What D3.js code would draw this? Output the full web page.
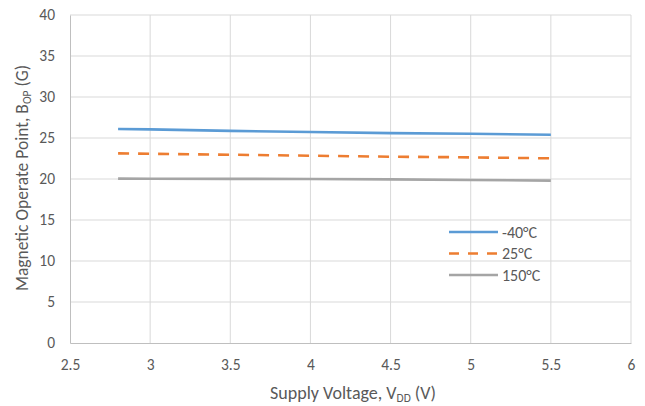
<!DOCTYPE html>
<html><head><meta charset="utf-8">
<script src="https://cdn.jsdelivr.net/npm/d3@7"></script>
<style>body{margin:0;background:#fff}text{font-family:Carlito,Lato,"Open Sans",sans-serif;fill:#595959}</style>
</head><body><svg id="c" width="645" height="406"></svg>
<script>
const voltages = [2.8, 3, 3.5, 4, 4.5, 5, 5.5];
const seriesNames = ["-40°C", "25°C", "150°C"];
const vMinus40 = [26.1, 26.05, 25.87, 25.73, 25.6, 25.52, 25.4];
const v25 = [23.13, 23.08, 22.96, 22.84, 22.72, 22.64, 22.52];
const v150 = [20.04, 20.03, 20.02, 20.0, 19.96, 19.88, 19.8];
const xTicks = [2.5, 3, 3.5, 4, 4.5, 5, 5.5, 6];
const yTicks = [0, 5, 10, 15, 20, 25, 30, 35, 40];
const colors = ["#5b9bd5", "#ed7d31", "#a5a5a5"];
const dashes = [null, "11,9", null];

const svg = d3.select("#c");
const x = d3.scaleLinear().domain([2.5, 6]).range([70, 631]);
const y = d3.scaleLinear().domain([0, 40]).range([343, 15]);

// gridlines
svg.append("g").selectAll("line").data(yTicks.filter(d=>d>0)).join("line")
  .attr("x1", x(2.5)).attr("x2", x(6)).attr("y1", d=>y(d)).attr("y2", d=>y(d))
  .attr("stroke", "#d9d9d9").attr("stroke-width", 1);
svg.append("g").selectAll("line").data(xTicks.filter(d=>d>2.5)).join("line")
  .attr("x1", d=>x(d)).attr("x2", d=>x(d)).attr("y1", y(0)).attr("y2", y(40))
  .attr("stroke", "#d9d9d9").attr("stroke-width", 1);

// axes
const xAxis = svg.append("g").attr("transform", `translate(0,${y(0)})`)
  .call(d3.axisBottom(x).tickValues(xTicks).tickSize(0).tickPadding(16).tickFormat(d3.format("")));
xAxis.select(".domain").attr("stroke", "#bfbfbf");
const yAxis = svg.append("g").attr("transform", `translate(${x(2.5)},0)`)
  .call(d3.axisLeft(y).tickValues(yTicks).tickSize(0).tickPadding(15));
yAxis.select(".domain").attr("stroke", "#bfbfbf");
svg.selectAll(".tick text").attr("font-size", 15.5).attr("fill", "#595959")
  .style("font-family", "Carlito,Lato,'Open Sans',sans-serif");

// lines
const data = [vMinus40, v25, v150];
const line = d3.line().x((d,i)=>x(voltages[i])).y(d=>y(d));
data.forEach((s, k) => {
  svg.append("path").datum(s).attr("d", line).attr("fill", "none")
    .attr("stroke", colors[k]).attr("stroke-width", 2.6)
    .attr("stroke-dasharray", dashes[k]);
});

// legend
const leg = svg.append("g");
seriesNames.forEach((n, k) => {
  const yy = 232 + k * 21.5;
  leg.append("line").attr("x1", 449).attr("x2", 498).attr("y1", yy).attr("y2", yy)
    .attr("stroke", colors[k]).attr("stroke-width", 2.6).attr("stroke-dasharray", k===1 ? "10,9" : null);
  leg.append("text").attr("x", 502).attr("y", yy + 5.5).attr("font-size", 16).text(n);
});

// axis titles
const xt = svg.append("text").attr("x", 353).attr("y", 399).attr("text-anchor", "middle").attr("font-size", 18);
xt.append("tspan").text("Supply Voltage, V");
xt.append("tspan").attr("font-size", 11.5).attr("dy", 3).text("DD");
xt.append("tspan").attr("dy", -3).text(" (V)");

const yt = svg.append("text").attr("transform", "translate(28,178) rotate(-90)").attr("text-anchor", "middle").attr("font-size", 17.5);
yt.append("tspan").text("Magnetic Operate Point, B");
yt.append("tspan").attr("font-size", 11.5).attr("dy", 3).text("OP");
yt.append("tspan").attr("dy", -3).text(" (G)");
</script></body></html>
